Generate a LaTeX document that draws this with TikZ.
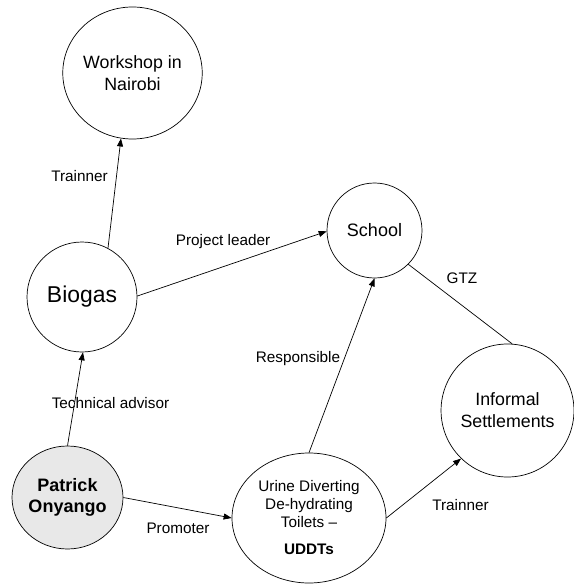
\documentclass[tikz,border=0pt]{standalone}
\usepackage{fontspec}
\setmainfont{Liberation Sans}
\usetikzlibrary{shapes.geometric,arrows.meta}
\begin{document}
\begin{tikzpicture}[x=1pt,y=-1pt,
  bub/.style={draw,ellipse,inner sep=0pt,line width=0.7pt,align=center},
  lbl/.style={font=\fontsize{15.3}{18}\selectfont,inner sep=0pt},
  arr/.style={line width=0.7pt,-{Triangle[length=8pt,width=6pt]}},
  plain/.style={line width=0.7pt}]
\useasboundingbox (0,0) rectangle (573,585);
\node[bub,minimum width=139pt,minimum height=132pt,font=\fontsize{17.8}{22}\selectfont] (ws) at (132.5,73) {Workshop in\\Nairobi};
\node[bub,minimum width=110pt,minimum height=110pt,font=\fontsize{22.9}{27}\selectfont] (bio) at (82,297) {Biogas};
\node[bub,minimum width=95pt,minimum height=95pt,font=\fontsize{18}{22}\selectfont] (sch) at (374.5,230.5) {School};
\node[bub,minimum width=130pt,minimum height=133pt,font=\fontsize{17.8}{22}\selectfont] (inf) at (507.5,410.5) {Informal\\Settlements};
\node[bub,fill=black!9,minimum width=111pt,minimum height=103pt,font=\bfseries\fontsize{18}{21}\selectfont] (pat) at (67.5,497.5) {Patrick\\Onyango};
\node[bub,minimum width=154pt,minimum height=130pt,font=\fontsize{15.3}{18}\selectfont] (ud) at (309,518) {Urine Diverting\\De-hydrating\\Toilets --\\[9pt]\textbf{UDDTs}};

\draw[arr] (bio.62.5) -- (ws.260);
\draw[arr] (bio.1) -- (sch.181);
\draw[arr] (pat.90) -- (bio.271);
\draw[arr] (pat.0) -- (ud.180);
\draw[arr] (ud.90) -- (sch.270);
\draw[arr] (ud.0) -- (inf.226.5);
\draw[plain] (sch.315) -- (inf.86);

\node[lbl] (l1) at (79.5,176) {Trainner};
\node[lbl] (l2) at (223,242) {Project leader};
\node[lbl] (l3) at (110.5,403) {Technical advisor};
\node[lbl] (l4) at (178,528) {Promoter};
\node[lbl] (l5) at (298,359) {Responsible};
\node[lbl] (l6) at (462,278) {GTZ};
\node[lbl] (l7) at (460.5,505) {Trainner};
\end{tikzpicture}
\end{document}
